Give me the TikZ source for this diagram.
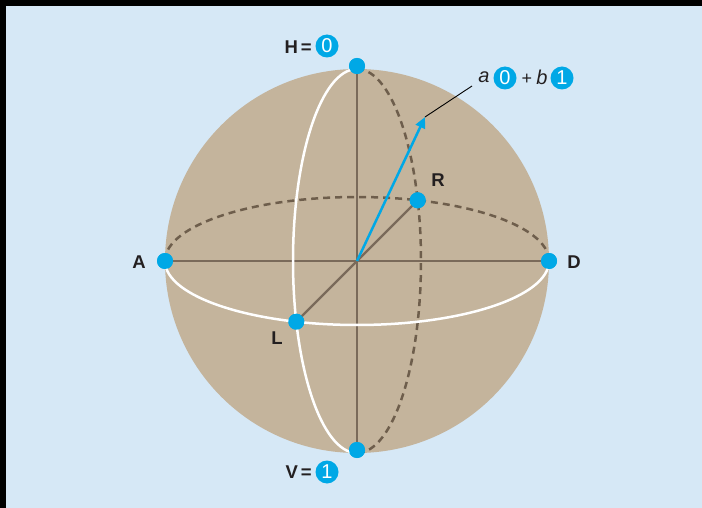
\documentclass[tikz,border=0pt]{standalone}
\usepackage{fontspec}
\setmainfont{Liberation Sans}
\usetikzlibrary{arrows.meta}
\definecolor{bgblue}{HTML}{D6E8F6}
\definecolor{tan}{HTML}{C4B49C}
\definecolor{axisc}{HTML}{7A6A5A}
\definecolor{dashc}{HTML}{6E5E4C}
\definecolor{qblue}{HTML}{00A8E6}
\definecolor{txt}{HTML}{231F20}
\tikzset{
  dot/.style={circle,fill=qblue,inner sep=0pt,minimum size=16pt},
  lab/.style={font=\fontsize{18.5}{20}\selectfont\bfseries,text=txt,inner sep=0pt},
  ket/.style={circle,fill=qblue,text=white,inner sep=0pt,minimum size=23pt,font=\fontsize{20}{20}\selectfont},
  frontc/.style={white,line width=2.5pt},
  backc/.style={dashc,line width=2.5pt,dash pattern=on 7pt off 5pt},
  axisl/.style={axisc,line width=2.2pt},
}
\begin{document}
\begin{tikzpicture}[x=1pt,y=-1pt]
\useasboundingbox (0,0) rectangle (702,508);
\fill[black] (0,0) rectangle (702,508);
\fill[bgblue] (6,6) rectangle (702,508);
% sphere
\fill[tan] (357,261) circle (192);
\coordinate (O) at (357,261);
% back curves
\draw[backc] (165,261) arc[start angle=180,end angle=360,x radius=192,y radius=64];
\draw[backc] (357,69) arc[start angle=-90,end angle=90,x radius=64,y radius=192];
% dots positions
\node[dot] (H) at (357,66) {};
\node[dot] (V) at (357,450) {};
\node[dot] (A) at (165,261) {};
\node[dot] (D) at (549,261) {};
\node[dot] (L) at (296.3,321.7) {};
\node[dot] (R) at (417.7,200.3) {};
% axes
\draw[axisl] (A.center) -- (D.center);
\draw[axisl] (H.center) -- (V.center);
\draw[axisl] (L.center) -- (R.center);
% front curves
\draw[frontc] (165,261) arc[start angle=180,end angle=0,x radius=192,y radius=64];
\draw[frontc] (357,69) arc[start angle=270,end angle=90,x radius=64,y radius=192];
% state vector
\coordinate (tip) at (425,117);
\draw[qblue,line width=2.5pt,-{Triangle[length=11pt,width=10pt]}] (O) -- (tip);
\coordinate (lp) at (472,86);
\draw[black,line width=0.9pt] (tip) -- (lp);
% dots on top
\node[dot] at (H) {};
\node[dot] at (V) {};
\node[dot] at (A) {};
\node[dot] at (D) {};
\node[dot] at (L) {};
\node[dot] at (R) {};
% labels
\node[lab] (tA) at (139,262) {A};
\node[lab] (tD) at (574,262) {D};
\node[lab] (tL) at (277,338) {L};
\node[lab] (tR) at (438,180) {R};
\node[lab,anchor=east] (tH) at (312,47) {H\,=};
\node[ket] (kH) at (327,46) {0};
\node[lab,anchor=east] (tV) at (312,472) {V\,=};
\node[ket] (kV) at (327,472) {1};
\node[font=\fontsize{20}{20}\selectfont\itshape,text=txt,inner sep=0pt] (ta) at (484,77) {a};
\node[ket] (k0) at (505,78) {0};
\node[font=\fontsize{18}{20}\selectfont,text=txt,inner sep=0pt] (tp) at (527,79) {+};
\node[font=\fontsize{20}{20}\selectfont\itshape,text=txt,inner sep=0pt] (tb) at (542,77) {b};
\node[ket] (k1) at (562,78) {1};
\end{tikzpicture}
\end{document}
